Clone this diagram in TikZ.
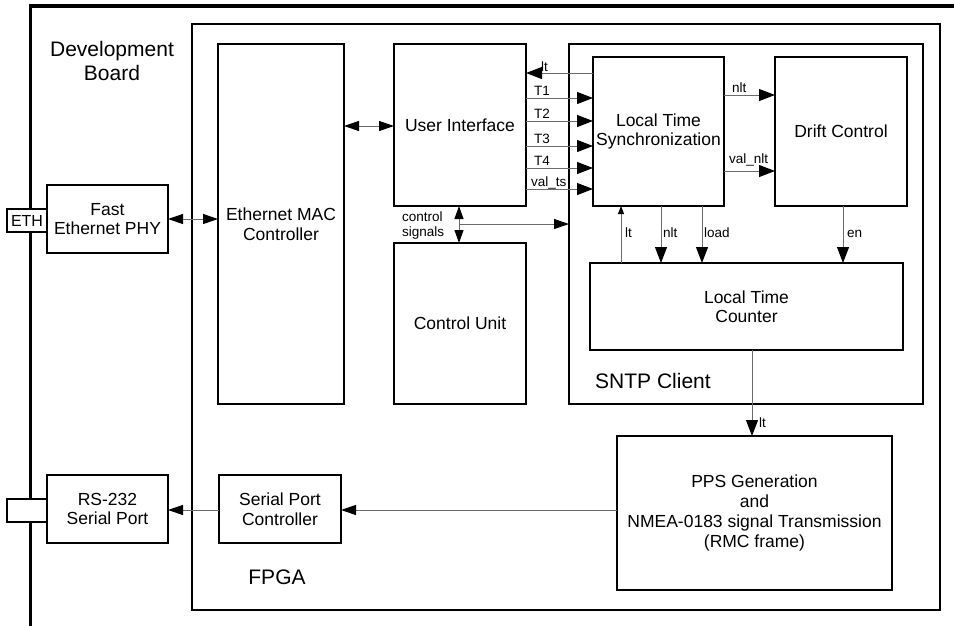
\documentclass[tikz,border=0pt]{standalone}
\usepackage{fontspec}
\setmainfont{Liberation Sans}
\usetikzlibrary{arrows.meta}
\newcommand\mkbox[7][]{\node[box,#1,minimum width={#5-#3},minimum height={#6-#4}] (#2) at ({(#3+#5)/2},{(#4+#6)/2}) {#7};}
\begin{document}
\begin{tikzpicture}[x=1pt,y=-1pt,
  box/.style={draw=black,line width=1.4pt,inner sep=0pt,outer sep=0pt,align=center,
    font=\fontsize{17.5}{19.5}\selectfont},
  conn/.style={draw=black!58,line width=1pt},
  lbl/.style={font=\fontsize{13.5}{15}\selectfont,inner sep=0pt},
  big/.style={font=\fontsize{21}{24}\selectfont,align=center,inner sep=0pt},
  tipA/.tip={Triangle[length=16pt,width=12pt,color=black]},
  tipB/.tip={Triangle[length=15pt,width=10pt,color=black]},
  tipC/.tip={Triangle[length=13pt,width=9pt,color=black]},
  tipS/.tip={Triangle[length=8pt,width=6pt,color=black]}]
\useasboundingbox (0,0) rectangle (954,625);
% development board outline
\draw[line width=3.5pt] (30.5,626) -- (30.5,6) -- (955,6);
% containers
\mkbox{fpga}{192}{24}{940}{610}{}
\mkbox{sntp}{569}{44}{923}{404}{}
% boxes
\mkbox[fill=white]{phy}{47}{185}{168}{253}{Fast\\Ethernet PHY}
\mkbox[fill=white,font=\fontsize{16}{18}\selectfont]{eth}{7}{209}{47}{232}{ETH}
\mkbox[fill=white]{rs}{47}{475}{168}{543}{RS-232\\Serial Port}
\mkbox[fill=white]{rsc}{7}{499}{47}{522}{}
\mkbox{mac}{218}{44}{344}{404}{Ethernet MAC\\Controller}
\mkbox{ui}{394}{44}{526}{206}{User Interface}
\mkbox{cu}{394}{243}{526}{404}{Control Unit}
\mkbox{lts}{593}{57}{724}{206}{Local Time\\Synchronization}
\mkbox{drift}{775}{57}{907}{206}{Drift Control}
\mkbox{ltc}{590}{263}{903}{350}{Local Time\\Counter}
\mkbox[font=\fontsize{17.5}{20}\selectfont]{pps}{617}{436}{892}{590}{PPS Generation\\and\\NMEA-0183 signal Transmission\\(RMC frame)}
\mkbox{spc}{219}{475}{341}{543}{Serial Port\\Controller}
% big labels
\node[big] (devl) at (112,61) {Development\\Board};
\node[big,anchor=base] (sntpl) at (653,388) {SNTP Client};
\node[big,anchor=base] (fpgal) at (277,584) {FPGA};
% connectors
\draw[conn,tipB-tipB] (phy.east |- 0,219) -- (mac.west |- 0,219);
\draw[conn,tipB-tipB] (mac.east |- 0,126) -- (ui.west |- 0,126);
\draw[conn,-tipA] (lts.west |- 0,73) -- (ui.east |- 0,73);
\foreach \y in {98,121,146,168,189}
  \draw[conn,-tipA] (ui.east |- 0,\y) -- (lts.west |- 0,\y);
\draw[conn,-tipA] (lts.east |- 0,95) -- (drift.west |- 0,95);
\draw[conn,-tipA] (lts.east |- 0,171) -- (drift.west |- 0,171);
\coordinate (cs) at (459,224);
\draw[conn,tipC-tipC] (ui.south -| cs) -- (cu.north -| cs);
\draw[conn,-tipB] (cs) -- (sntp.west |- cs);
\draw[conn,-tipS] (ltc.north -| 621,0) -- (lts.south -| 621,0);
\draw[conn,-tipA] (lts.south -| 661,0) -- (ltc.north -| 661,0);
\draw[conn,-tipA] (lts.south -| 702,0) -- (ltc.north -| 702,0);
\draw[conn,-tipA] (drift.south -| 843,0) -- (ltc.north -| 843,0);
\draw[conn,-tipA] (ltc.south -| 752,0) -- (pps.north -| 752,0);
\draw[conn,-tipB] (pps.west |- 0,510) -- (spc.east |- 0,510);
\draw[conn,-tipB] (spc.west |- 0,510) -- (rs.east |- 0,510);
% small labels
\node[lbl,anchor=base west] (l-lt) at (541,71) {lt};
\node[lbl,anchor=base west] (l-t1) at (534,95) {T1};
\node[lbl,anchor=base west] (l-t2) at (534,118) {T2};
\node[lbl,anchor=base west] (l-t3) at (534,143) {T3};
\node[lbl,anchor=base west] (l-t4) at (534,165) {T4};
\node[lbl,anchor=base west] (l-vts) at (531,186) {val\_ts};
\node[lbl,anchor=base west] (l-nlt) at (732,92) {nlt};
\node[lbl,anchor=base west] (l-vnlt) at (729,163) {val\_nlt};
\node[lbl,align=left,anchor=west] (l-cs) at (402,226) {control\\signals};
\node[lbl,anchor=base west] (l-lt2) at (625,237) {lt};
\node[lbl,anchor=base west] (l-nlt2) at (663,237) {nlt};
\node[lbl,anchor=base west] (l-load) at (704,237) {load};
\node[lbl,anchor=base west] (l-en) at (847,237) {en};
\node[lbl,anchor=base west] (l-lt3) at (759,427) {lt};
\end{tikzpicture}
\end{document}
